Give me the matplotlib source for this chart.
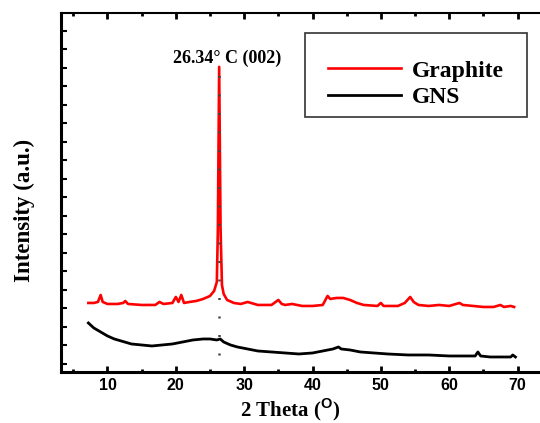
import matplotlib
matplotlib.use("Agg")
import matplotlib.pyplot as plt
from matplotlib.patches import Rectangle
import numpy as np

# XRD patterns (intensity in arbitrary units)
graphite_2theta = [7.2, 8.0, 8.6, 9.0, 9.3, 10.0, 11.5, 12.3, 12.6, 13.0, 15.0, 17.0,
                   17.6, 18.2, 19.5, 20.0, 20.4, 20.8, 21.2, 22.0, 23.0, 24.0, 25.0,
                   25.6, 26.0, 26.15, 26.34, 26.55, 26.75, 27.0, 27.5, 28.5, 29.5,
                   30.5, 31.0, 32.0, 34.0, 35.0, 35.5, 36.0, 37.0, 38.5, 40.0, 41.5,
                   42.2, 42.6, 43.5, 44.5, 45.5, 46.5, 47.5, 49.5, 50.0, 50.4, 52.5,
                   53.5, 54.3, 54.8, 55.5, 57.0, 58.5, 60.0, 61.5, 62.0, 63.5, 65.0,
                   66.5, 67.5, 68.0, 69.0, 69.5]
graphite_int = [69, 69, 70, 77, 70, 68, 68, 69, 71, 68, 67, 67,
                70, 68, 69, 75, 70, 77, 69, 70, 71, 73, 76,
                81, 90, 142, 305, 142, 87, 78, 72, 69, 68,
                70, 69, 67, 67, 72, 68, 67, 68, 66, 66, 67,
                76, 73, 74, 74, 72, 69, 67, 66, 69, 66, 66,
                69, 75, 70, 67, 66, 67, 66, 69, 67, 66, 65,
                65, 67, 65, 66, 65]

gns_2theta = [7.2, 8.0, 9.0, 10.0, 11.0, 12.0, 13.5, 15.0, 16.5, 18.0, 19.5, 21.0,
              22.5, 24.0, 25.0, 26.0, 26.5, 27.0, 28.0, 29.0, 30.5, 32.0, 34.0,
              36.0, 38.0, 40.0, 41.5, 43.0, 43.8, 44.2, 45.5, 47.0, 49.0, 51.0,
              54.0, 57.0, 60.0, 62.0, 63.8, 64.2, 64.6, 66.0, 68.0, 69.0, 69.3, 69.7]
gns_int = [49, 44, 40, 36, 33, 31, 28, 27, 26, 27, 28, 30,
           32, 33, 33, 32, 33, 30, 27, 25, 23, 21, 20,
           19, 18, 19, 21, 23, 25, 23, 22, 20, 19, 18,
           17, 17, 16, 16, 16, 20, 16, 15, 15, 15, 17, 15]

peak_pos = 26.34
peak_label = "26.34° C (002)"
x_ticks = [10, 20, 30, 40, 50, 60, 70]

serif = "Liberation Serif"
plt.rcParams["mathtext.fontset"] = "custom"
plt.rcParams["mathtext.rm"] = "Liberation Sans:bold"

fig = plt.figure(figsize=(5.4, 4.23), dpi=100)
ax = fig.add_axes([0.113, 0.1206, 0.896, 0.849])

ax.plot(graphite_2theta, graphite_int, color="#ff0000", lw=1.9, label="Graphite")
ax.plot(gns_2theta, gns_int, color="black", lw=2.0, label="GNS")

# dotted guide through the (002) peak
ax.plot([peak_pos, peak_pos], [17, 305], color="#444444", lw=1.8,
        linestyle=(0, (0.8, 6.6)))
ax.text(27.5, 309, peak_label, ha="center", va="baseline",
        fontsize=13, fontweight="bold", family=serif)

ax.set_xlim(3.2, 74)
ax.set_ylim(0, 359)
ax.set_xticks(x_ticks)
ax.set_xticks(np.arange(5, 75, 10), minor=True)
ax.set_yticks(np.arange(8, 359, 18.5))
ax.set_yticklabels([])

ax.tick_params(axis="x", which="major", direction="in", length=4, width=2,
               top=True, labelsize=11.5, pad=4)
ax.tick_params(axis="x", which="minor", direction="in", length=2, width=2, top=True)
ax.tick_params(axis="y", direction="in", length=4, width=1.5)
for lab in ax.get_xticklabels():
    lab.set_family("Liberation Sans")
    lab.set_fontweight("bold")

for side in ["left", "bottom"]:
    ax.spines[side].set_linewidth(2.2)
ax.spines["top"].set_linewidth(1.5)
ax.spines["right"].set_visible(False)

ax.set_xlabel("2 Theta ($^{\\mathrm{O}}$)", fontsize=15, fontweight="bold",
              family=serif)
ax.xaxis.set_label_coords(0.473, -0.069)
ax.set_ylabel("Intensity (a.u.)", fontsize=16.5, fontweight="bold", family=serif)
ax.yaxis.set_label_coords(-0.054, 0.4485)

# legend box
ax.add_patch(Rectangle((0.504, 0.7103), 0.4587, 0.234, transform=ax.transAxes,
                       fill=False, edgecolor="#333333", lw=1.2))
leg = ax.legend(loc="center left", bbox_to_anchor=(0.5517, 0.802), frameon=False,
                prop={"family": serif, "weight": "bold", "size": 17},
                handlelength=3.1, handletextpad=0.47, labelspacing=0.2,
                borderpad=0, borderaxespad=0)

fig.savefig("out.png", dpi=100)
